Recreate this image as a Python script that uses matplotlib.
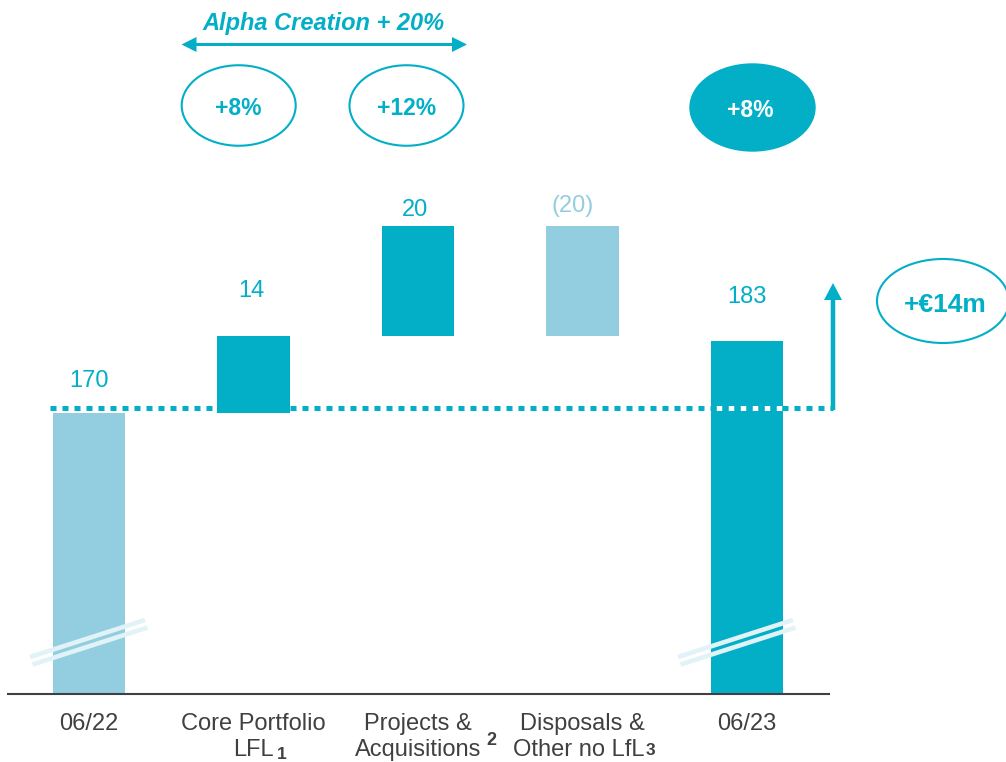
import matplotlib
matplotlib.use("Agg")
import matplotlib.pyplot as plt
from matplotlib.patches import Ellipse, FancyArrow
import matplotlib.transforms as mtransforms

plt.rcParams['font.family'] = ['Liberation Sans', 'DejaVu Sans']

# ---- data -------------------------------------------------------------
categories = ["06/22", "Core Portfolio\nLFL", "Projects &\nAcquisitions",
              "Disposals &\nOther no LfL", "06/23"]
footnotes = ["", "1", "2", "3", ""]
start_value = 170
changes = [14, 20, -20]
end_value = 183
value_labels = ["170", "14", "20", "(20)", "183"]
growth_labels = ["+8%", "+12%"]
total_growth_label = "+8%"
alpha_label = "Alpha Creation + 20%"
delta_label = "+\u20ac14m"

TEAL = "#02AFC7"
LIGHT = "#93CDE0"
GREY = "#404040"
BREAK = "#E2F3F8"

W, H = 1006, 762
fig = plt.figure(figsize=(W / 100, H / 100), dpi=100)

# main axes: broken value axis, baseline well above zero
ax = fig.add_axes([8 / W, (H - 694) / H, (829 - 8) / W, 694 / H])
ax.set_xlim(-0.4924, 4.4985)
ax.set_ylim(118.85, 245.0)
for s in ("left", "right", "top"):
    ax.spines[s].set_visible(False)
ax.spines["bottom"].set_color(GREY)
ax.spines["bottom"].set_linewidth(1.5)
ax.set_xticks([])
ax.set_yticks([])
ax.patch.set_alpha(0)

width = 0.438
y0 = ax.get_ylim()[0]

# waterfall bars
bottoms, heights, colors = [], [], []
bottoms.append(y0); heights.append(start_value - y0); colors.append(LIGHT)
level = start_value
for c in changes:
    if c >= 0:
        bottoms.append(level); heights.append(c); colors.append(TEAL)
    else:
        bottoms.append(level + c); heights.append(-c); colors.append(LIGHT)
    level += c
bottoms.append(y0); heights.append(end_value - y0); colors.append(TEAL)
tops = [b + h for b, h in zip(bottoms, heights)]

zorders = [2, 4, 4, 4, 2]
for i, (b, h, col) in enumerate(zip(bottoms, heights, colors)):
    ax.bar(i, h, bottom=b, width=width, color=col, zorder=zorders[i])

# dotted reference line at the opening level
shift = mtransforms.ScaledTranslation(0, 3.2 / 72, fig.dpi_scale_trans)
ax.plot([-0.237, 4.523], [start_value, start_value], transform=ax.transData + shift,
        color=TEAL, lw=3.6, linestyle=(0, (1.2, 1.2)), gapcolor="white",
        zorder=3, clip_on=False, dash_capstyle="butt")

# value labels above bars (pixel offsets)
label_offsets = [(0, 18.5), (-1.5, 28), (-2, 7), (-7, 10), (0, 27.5)]
label_colors = [TEAL, TEAL, TEAL, LIGHT, TEAL]
for i, (txt, top, off, col) in enumerate(zip(value_labels, tops, label_offsets, label_colors)):
    ax.annotate(txt, xy=(i, top), xytext=off, textcoords="offset points",
                ha="center", va="baseline", fontsize=17, color=col)

# overlay axes in pixel units for annotations
ov = fig.add_axes([0, 0, 1, 1])
ov.set_xlim(0, W)
ov.set_ylim(H, 0)
ov.axis("off")
ov.patch.set_alpha(0)

# category labels
centers_px = [89 + 164.5 * i for i in range(len(categories))]
for i, (cat, cx) in enumerate(zip(categories, centers_px)):
    lines = cat.split("\n")
    ov.text(cx, 730, lines[0], ha="center", va="baseline", fontsize=17, color=GREY)
    if len(lines) > 1:
        t = ov.text(cx - (4 if i == 3 else 0), 756, lines[1], ha="center",
                    va="baseline", fontsize=17, color=GREY)
ov.text(277, 759, footnotes[1], ha="left", va="baseline", fontsize=12.5,
        fontweight="bold", color=GREY)
ov.text(486, 745, footnotes[2], ha="left", va="baseline", fontsize=13,
        fontweight="bold", color=GREY)
ov.text(646, 755, footnotes[3], ha="left", va="baseline", fontsize=12.5,
        fontweight="bold", color=GREY)

# break marks across the full bars
for x0 in (30, 678):
    for dy, dx in ((0, 0), (7.5, 2.5)):
        ov.plot([x0 + dx, x0 + 115 + dx], [657 + dy, 620 + dy], color=BREAK,
                lw=3.3, solid_capstyle="butt", zorder=5)

# growth ellipses
for (cx, txt) in zip((238.7, 406.5), growth_labels):
    ov.add_patch(Ellipse((cx, 105.5), 114, 80.5, fill=False, ec=TEAL, lw=1.5))
    ov.text(cx, 115, txt, ha="center", va="baseline", fontsize=16.5,
            fontweight="bold", color=TEAL)
ov.add_patch(Ellipse((752.5, 107.5), 125, 87, fc=TEAL, ec=TEAL, lw=1))
ov.text(750, 117, total_growth_label, ha="center", va="baseline", fontsize=16.5,
        fontweight="bold", color="white")

ov.add_patch(Ellipse((943, 301), 132, 84, fill=False, ec=TEAL, lw=1.5, clip_on=False))
ov.text(945, 312, delta_label, ha="center", va="baseline", fontsize=19,
        fontweight="bold", color=TEAL)

# alpha creation bracket
ov.text(324, 30, alpha_label, ha="center", va="baseline", fontsize=17,
        fontweight="bold", fontstyle="italic", color=TEAL)
for tip in (181.5, 467):
    ov.add_patch(FancyArrow(324, 44.5, tip - 324, 0, width=3, head_width=15,
                            head_length=15, length_includes_head=True,
                            color=TEAL, lw=0))

# upward arrow for the net change
ov.add_patch(FancyArrow(833, 410, 0, 283 - 410, width=4.5, head_width=18,
                        head_length=17, length_includes_head=True,
                        color=TEAL, lw=0))

fig.savefig("out.png", dpi=100)
